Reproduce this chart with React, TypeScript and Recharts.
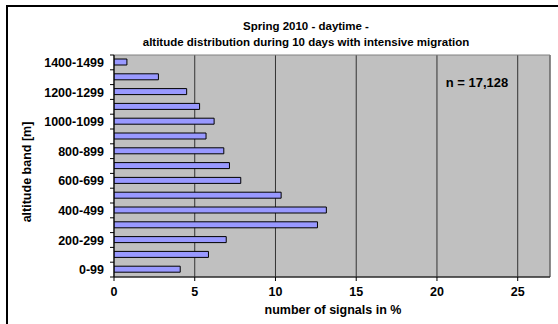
import { BarChart, Bar, XAxis, YAxis, CartesianGrid, ReferenceArea } from "recharts";

// altitude bands, top of the chart first
const BANDS = [
  "1400-1499", "1300-1399", "1200-1299", "1100-1199", "1000-1099",
  "900-999", "800-899", "700-799", "600-699", "500-599",
  "400-499", "300-399", "200-299", "100-199", "0-99",
];

// share of radar signals per band, in %
const SHARE = [0.8, 2.75, 4.5, 5.3, 6.2, 5.7, 6.8, 7.15, 7.85, 10.35, 13.15, 12.6, 6.95, 5.85, 4.1];

const X_TICKS = [0, 5, 10, 15, 20, 25];
const X_MAX = 27;

const FONT = "Arial, 'Liberation Sans', sans-serif";

const data = BANDS.map((band, i) => ({ band, share: SHARE[i] }));

const PLOT_TOP = 55;
const PLOT_BOTTOM = 277;
const BAND_H = (PLOT_BOTTOM - PLOT_TOP) / BANDS.length;

interface TickProps {
  x?: number;
  y?: number;
  index?: number;
  payload?: { value: string };
}

// labels on every second band, tick marks on band boundaries (Excel style)
function BandTick({ x = 0, y = 0, index = 0, payload }: TickProps) {
  return (
    <g>
      {index % 2 === 0 && (
        <text
          x={x - 10}
          y={y}
          dy={4.5}
          textAnchor="end"
          fontSize={12.5}
          fontWeight="bold"
          fontFamily={FONT}
          fill="#000"
        >
          {payload?.value}
        </text>
      )}
      {index === 0 && (
        <line x1={x - 4} x2={x} y1={y - BAND_H / 2} y2={y - BAND_H / 2} stroke="#000" />
      )}
      <line x1={x - 4} x2={x} y1={y + BAND_H / 2} y2={y + BAND_H / 2} stroke="#000" />
    </g>
  );
}

const lineStyle = { position: "absolute" as const, background: "#000", zIndex: 5 };

export default function App() {
  return (
    <div
      style={{
        position: "absolute",
        left: 0,
        top: 0,
        width: 558,
        height: 324,
        background: "#fff",
        fontFamily: FONT,
        overflow: "hidden",
      }}
    >
      <div
        style={{
          position: "absolute",
          left: 106,
          width: 400,
          top: 18,
          textAlign: "center",
          fontSize: 11.5,
          fontWeight: "bold",
          lineHeight: "16px",
        }}
      >
        Spring 2010 - daytime -
        <br />
        altitude distribution during 10 days with intensive migration
      </div>
      <BarChart
        width={558}
        height={324}
        data={data}
        layout="vertical"
        margin={{ top: PLOT_TOP, right: 8, bottom: 17, left: 14 }}
        barCategoryGap={0}
        style={{ position: "absolute", left: 0, top: 0 }}
      >
        <CartesianGrid horizontal={false} vertical fill="#C0C0C0" stroke="#333" strokeOpacity={1} />
        <ReferenceArea x1={0} x2={X_MAX} fill="none" stroke="#808080" strokeWidth={1} />
        <XAxis
          type="number"
          domain={[0, X_MAX]}
          ticks={X_TICKS}
          interval={0}
          height={30}
          allowDataOverflow
          axisLine={{ stroke: "#000" }}
          tickLine={{ stroke: "#000" }}
          tickSize={4}
          tickMargin={6}
          tick={{ fontSize: 12.5, fontWeight: "bold", fill: "#000", fontFamily: FONT }}
        />
        <YAxis
          type="category"
          dataKey="band"
          width={100}
          interval={0}
          axisLine={{ stroke: "#000" }}
          tickLine={false}
          tickSize={0}
          tickMargin={0}
          tick={<BandTick />}
        />
        <Bar
          dataKey="share"
          fill="#9999FF"
          stroke="#000"
          strokeWidth={1}
          barSize={6}
          isAnimationActive={false}
        />
      </BarChart>
      <div
        style={{
          position: "absolute",
          left: 437,
          top: 75,
          width: 80,
          textAlign: "center",
          fontSize: 13,
          fontWeight: "bold",
        }}
      >
        n = 17,128
      </div>
      <div
        style={{
          position: "absolute",
          left: 27,
          top: 172,
          transform: "translate(-50%, -50%) rotate(-90deg)",
          whiteSpace: "nowrap",
          fontSize: 12.5,
          fontWeight: "bold",
        }}
      >
        altitude band [m]
      </div>
      <div
        style={{
          position: "absolute",
          left: 233,
          width: 200,
          top: 303,
          textAlign: "center",
          fontSize: 12.5,
          fontWeight: "bold",
        }}
      >
        number of signals in %
      </div>
      {/* chart frame, cut off at right and bottom as in the source */}
      <div style={{ ...lineStyle, left: 6, top: 5, width: 552, height: 2 }} />
      <div style={{ ...lineStyle, left: 6, top: 5, width: 2, height: 319 }} />
    </div>
  );
}
